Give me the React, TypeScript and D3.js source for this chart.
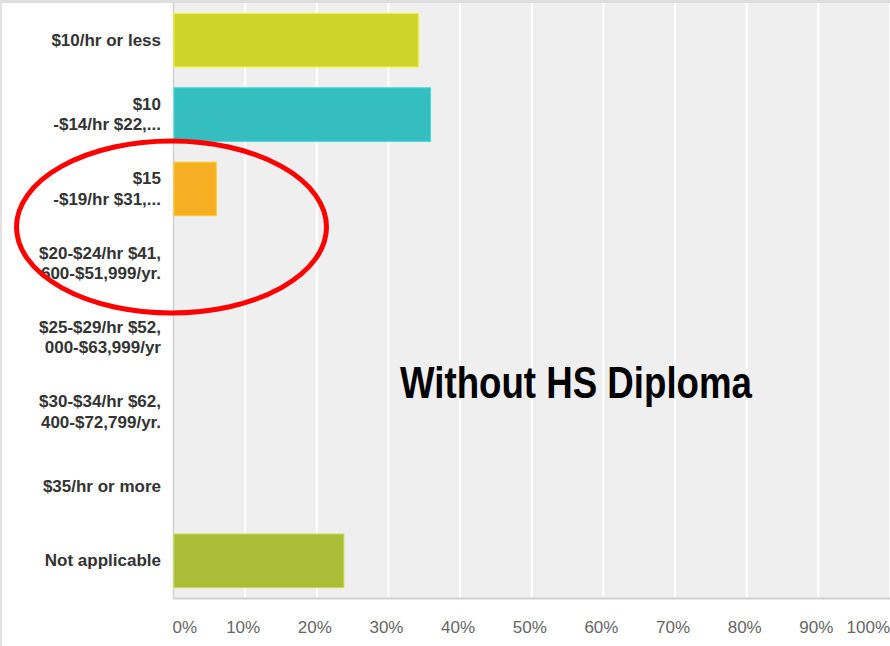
import React from "react";
import * as d3 from "d3";

const categories = [
  "$10/hr or less",
  "$10\n-$14/hr $22,...",
  "$15\n-$19/hr $31,...",
  "$20-$24/hr $41,\n600-$51,999/yr.",
  "$25-$29/hr $52,\n000-$63,999/yr",
  "$30-$34/hr $62,\n400-$72,799/yr.",
  "$35/hr or more",
  "Not applicable",
];
const values = [34.1, 35.8, 5.9, 0, 0, 0, 0, 23.7];
const barColors = ["#d0d42a", "#35bec0", "#f6af22", "#d0d42a", "#d0d42a", "#d0d42a", "#d0d42a", "#a9bd38"];
const tickValues = [0, 10, 20, 30, 40, 50, 60, 70, 80, 90, 100];
const title = "Without HS Diploma";

const W = 890;
const H = 646;

export default function App() {
  const x = d3.scaleLinear().domain([0, 100]).range([173.5, 890]);
  const y = d3.scaleBand<string>().domain(categories).range([3, 598]).paddingInner(0.28).paddingOuter(0.14);

  return (
    <svg width={W} height={H} style={{ position: "absolute", left: 0, top: 0, background: "#fff" }}>
      <rect x={0} y={0} width={W} height={3} fill="#dedede" />
      <rect x={0} y={0} width={2} height={H} fill="#e2e2e2" />
      <rect x={x(0)} y={3} width={x(100) - x(0)} height={595} fill="#efefef" />
      {tickValues.slice(1).map((t) => (
        <line key={t} x1={x(t)} x2={x(t)} y1={3} y2={598} stroke="#ffffff" strokeWidth={2} />
      ))}
      <line x1={x(0)} x2={x(0)} y1={3} y2={599} stroke="#cfcfcf" strokeWidth={1.5} />
      <line x1={x(0)} x2={W} y1={598.5} y2={598.5} stroke="#d2d2d2" strokeWidth={2} />
      {categories.map((c, i) =>
        values[i] > 0 ? (
          <rect
            key={c}
            x={x(0) + 0.5}
            y={y(c) as number}
            width={x(values[i]) - x(0)}
            height={y.bandwidth()}
            fill={barColors[i]}
            stroke={d3.color(barColors[i])!.brighter(0.4).toString()}
            strokeWidth={1}
          />
        ) : null
      )}
      {categories.map((c) => {
        const lines = c.split("\n");
        const cy = (y(c) as number) + y.bandwidth() / 2;
        const lh = 20.5;
        return (
          <text
            key={c}
            x={161}
            textAnchor="end"
            fontFamily="'Liberation Sans', Arial, sans-serif"
            fontWeight="bold"
            fontSize={17}
            fill="#333"
          >
            {lines.map((l, j) => (
              <tspan key={j} x={161} y={cy - ((lines.length - 1) * lh) / 2 + j * lh + 5.5}>
                {l}
              </tspan>
            ))}
          </text>
        );
      })}
      {tickValues.map((t, i) => (
        <text
          key={t}
          x={i === 0 ? x(t) - 1 : i === tickValues.length - 1 ? W : x(t) - 2}
          y={633}
          textAnchor={i === 0 ? "start" : i === tickValues.length - 1 ? "end" : "middle"}
          fontFamily="'Liberation Sans', Arial, sans-serif"
          fontSize={17}
          fill="#666"
        >
          {t}%
        </text>
      ))}
      <text
        x={400}
        y={398}
        fontFamily="'Liberation Sans', Arial, sans-serif"
        fontWeight="bold"
        fontSize={45}
        fill="#000"
        textLength={352}
        lengthAdjust="spacingAndGlyphs"
      >
        {title}
      </text>
      <ellipse cx={171.5} cy={227} rx={155} ry={86} fill="none" stroke="#ff0000" strokeWidth={5} />
    </svg>
  );
}
